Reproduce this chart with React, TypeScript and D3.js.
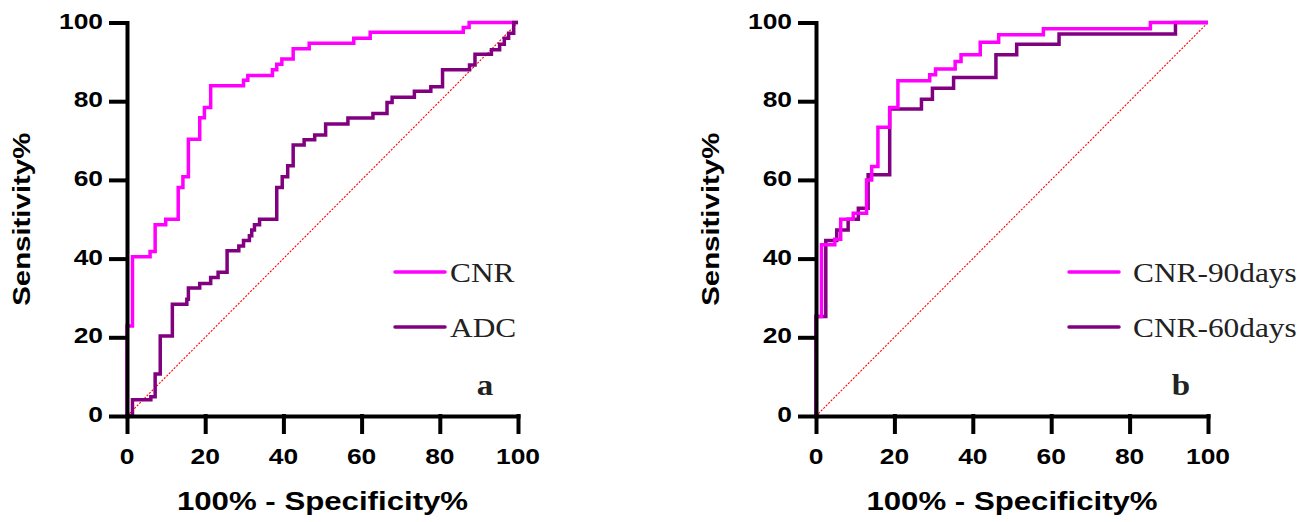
import * as d3 from 'd3'
import { useRef, useEffect } from 'react'

const xTicks = [0, 20, 40, 60, 80, 100]
const yTicks = [0, 20, 40, 60, 80, 100]

// panel a
const cnrFpr = [0, 0, 1.4, 5.9, 7.2, 9.9, 13.1, 14.3, 15.7, 18.6, 19.8, 21.4, 29.8, 30.9, 37.2, 38.3, 39.6, 42.5, 46.6, 58, 62.2, 86, 87.5, 100]
const cnrTpr = [0, 22.9, 40.5, 41.8, 48.6, 50, 58.1, 60.8, 70.3, 75.8, 78.4, 83.9, 85.3, 86.5, 88, 89.4, 90.7, 93.3, 94.7, 96, 97.5, 98.7, 100, 100]
const adcFpr = [0, 1.4, 6.1, 7.2, 8.5, 11.6, 15.3, 15.7, 18.6, 21.4, 23.3, 25.6, 28.6, 29.8, 31.3, 31.9, 32.6, 33.9, 38.3, 39.7, 41.1, 42.5, 45.3, 48, 50.8, 56.5, 62.9, 66.5, 67.8, 73.5, 77.7, 80.7, 87.6, 89, 93.2, 95.3, 96.5, 97.6, 98.9, 100]
const adcTpr = [0, 4.1, 4.9, 10.7, 20.3, 28.4, 29.7, 32.5, 33.7, 35.2, 36.5, 42, 43.2, 44.6, 45.8, 47.3, 48.6, 50, 58.1, 60.8, 63.6, 68.9, 70.2, 71.4, 74.2, 75.7, 76.9, 79.7, 81, 82.5, 83.7, 88, 89.2, 91.9, 93.1, 94.5, 96, 97.3, 100, 100]

// panel b
const cnr90Fpr = [0, 0, 1.4, 4.8, 6.3, 9.5, 12.9, 14.2, 15.8, 18.8, 20.9, 29, 30.5, 35.5, 37, 41.9, 46.6, 58, 85.3, 100]
const cnr90Tpr = [0, 25.3, 43.5, 44.9, 50, 51.5, 60, 63.4, 73.4, 78.4, 85.2, 86.7, 88.2, 90.1, 91.8, 95, 96.9, 98.4, 100, 100]
const cnr60Fpr = [0, 0, 2.5, 5.3, 8.2, 10.8, 13.3, 18.8, 26.9, 29.7, 35.1, 45.9, 51.2, 62, 91.7, 100]
const cnr60Tpr = [0, 25.3, 44.6, 47.3, 50, 52.8, 61.3, 78, 80.5, 83.3, 86, 91.8, 94.5, 97.1, 100, 100]

const MAGENTA = '#ff00ff'
const PURPLE = '#800080'
const SANS = '"Liberation Sans", Arial, sans-serif'
const SERIF = '"Liberation Serif", "Times New Roman", serif'

const panels = [
  {
    x0: 127, x1: 518, legendX: 395, textX: 450, letter: 'a', letterX: 485,
    // drawing order: first drawn is below
    series: [
      { name: 'CNR', fpr: cnrFpr, tpr: cnrTpr, color: MAGENTA, legendRow: 0 },
      { name: 'ADC', fpr: adcFpr, tpr: adcTpr, color: PURPLE, legendRow: 1 }
    ]
  },
  {
    x0: 816, x1: 1208, legendX: 1069, textX: 1133, letter: 'b', letterX: 1181,
    series: [
      { name: 'CNR-60days', fpr: cnr60Fpr, tpr: cnr60Tpr, color: PURPLE, legendRow: 1 },
      { name: 'CNR-90days', fpr: cnr90Fpr, tpr: cnr90Tpr, color: MAGENTA, legendRow: 0 }
    ]
  }
]

const App = () => {
  const chart = useRef(null)

  useEffect(() => {
    drawChart()
  }, [])

  // text in the source image is stretched horizontally
  const addText = (parent, str, x, y, opts) => {
    const sx = opts.stretch || 1.2
    const g = parent
      .append('g')
      .attr('transform', `translate(${x},${y})${opts.rotate ? ` rotate(${opts.rotate})` : ''} scale(${sx},1)`)
    g.append('text')
      .attr('text-anchor', opts.anchor || 'start')
      .attr('font-family', opts.family || SANS)
      .attr('font-size', opts.size)
      .attr('font-weight', opts.weight || 'normal')
      .attr('fill', opts.fill || '#000')
      .text(str)
  }

  const drawChart = () => {
    const svg = d3.select(chart.current)
    svg.selectAll('*').remove()

    const yBottom = 416
    const yTop = 22.5

    panels.forEach((p) => {
      const x = d3.scaleLinear().domain([0, 100]).range([p.x0, p.x1])
      const y = d3.scaleLinear().domain([0, 100]).range([yBottom, yTop])
      const g = svg.append('g')

      // diagonal reference line
      g.append('line')
        .attr('x1', x(0))
        .attr('y1', y(0))
        .attr('x2', x(100))
        .attr('y2', y(100))
        .attr('stroke', '#ff0000')
        .attr('stroke-width', 1.1)
        .attr('stroke-dasharray', '2,1.5')

      const line = d3
        .line()
        .x((d) => x(d[0]))
        .y((d) => y(d[1]))
        .curve(d3.curveStepAfter)

      p.series.forEach((s) => {
        const pts = s.fpr.map((f, i) => [f, s.tpr[i]])
        g.append('path')
          .attr('d', line(pts))
          .attr('fill', 'none')
          .attr('stroke', s.color)
          .attr('stroke-width', 3.5)
          .attr('stroke-linejoin', 'miter')
      })

      // axes
      const xAxis = g
        .append('g')
        .attr('transform', `translate(0,${yBottom})`)
        .call(d3.axisBottom(x).tickValues(xTicks).tickSize(16).tickSizeOuter(0).tickFormat(() => ''))
      const yAxis = g
        .append('g')
        .attr('transform', `translate(${p.x0},0)`)
        .call(d3.axisLeft(y).tickValues(yTicks).tickSize(16).tickSizeOuter(0).tickFormat(() => ''))
      ;[xAxis, yAxis].forEach((a) => {
        a.selectAll('path, line').attr('stroke', '#000').attr('stroke-width', 4).attr('stroke-linecap', 'square')
      })

      xTicks.forEach((t) => {
        addText(g, String(t), x(t), 464, { anchor: 'middle', size: 22, weight: 'bold' })
      })
      yTicks.forEach((t) => {
        addText(g, String(t), p.x0 - 24, y(t) + 6, { anchor: 'end', size: 22, weight: 'bold' })
      })

      addText(g, '100% - Specificity%', (p.x0 + p.x1) / 2, 510, { anchor: 'middle', size: 26, weight: 'bold' })
      addText(g, 'Sensitivity%', p.x0 - 97, (yTop + yBottom) / 2, { anchor: 'middle', size: 24.5, weight: 'bold', rotate: -90 })

      // legend
      const rowY = [272, 327]
      p.series.forEach((s) => {
        const ly = rowY[s.legendRow]
        g.append('line')
          .attr('x1', p.legendX)
          .attr('x2', p.legendX + 50)
          .attr('y1', ly)
          .attr('y2', ly)
          .attr('stroke', s.color)
          .attr('stroke-width', 3.5)
          .attr('stroke-linecap', 'round')
        addText(g, s.name, p.textX, ly + 10, { size: 28, family: SERIF, fill: '#222', stretch: 1.12 })
      })

      addText(g, p.letter, p.letterX, 395, { anchor: 'middle', size: 30, family: SERIF, weight: 'bold', fill: '#222', stretch: 1.1 })
    })
  }

  return (
    <svg
      ref={chart}
      width={1311}
      height={522}
      style={{ position: 'absolute', left: 0, top: 0, background: '#fff' }}
    ></svg>
  )
}

export default App
